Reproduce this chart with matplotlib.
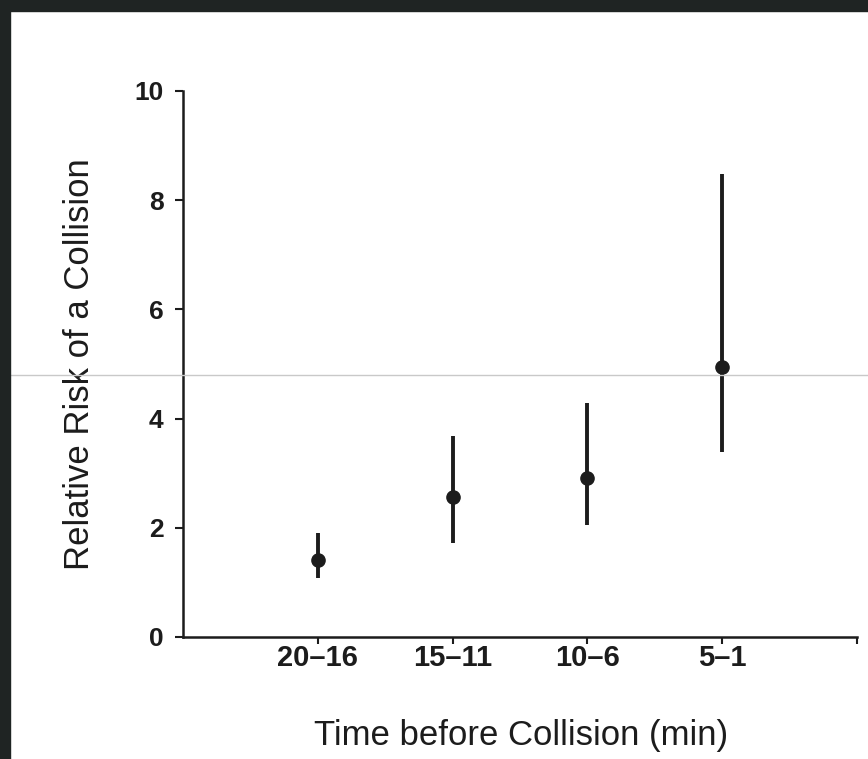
import matplotlib
matplotlib.use('Agg')
import matplotlib.pyplot as plt
from matplotlib.lines import Line2D
from matplotlib.patches import Rectangle

plt.rcParams['font.family'] = ['Liberation Sans', 'DejaVu Sans']

# data
periods = ['20\u201316', '15\u201311', '10\u20136', '5\u20131']
risk = [1.41, 2.56, 2.91, 4.95]
ci_low = [1.08, 1.72, 2.05, 3.39]
ci_high = [1.90, 3.68, 4.29, 8.48]

ink = '#1c1c1c'

fig = plt.figure(figsize=(8.68, 7.59), dpi=100)
fig.patch.set_facecolor('white')

# dark scan border on top and left
fig.add_artist(Rectangle((0, 1 - 11 / 759), 1, 11 / 759, transform=fig.transFigure,
                         color='#1f2423', zorder=10))
fig.add_artist(Rectangle((0, 0), 10 / 868, 1, transform=fig.transFigure,
                         color='#1f2423', zorder=10))
# faint scanner line across the page
fig.add_artist(Line2D([10 / 868, 1], [0.506, 0.506], transform=fig.transFigure,
                      color='#c9c9c9', lw=1.0, zorder=5))

ax = fig.add_axes([183 / 868, (759 - 637) / 759, (857 - 183) / 868, (637 - 91) / 759])

x = list(range(len(periods)))
yerr = [[r - lo for r, lo in zip(risk, ci_low)],
        [hi - r for r, hi in zip(risk, ci_high)]]
ax.errorbar(x, risk, yerr=yerr, fmt='o', color=ink, ms=9.5, elinewidth=2.8,
            capsize=0, zorder=3)

ax.set_xlim(-1, 4)
ax.set_ylim(0, 10)
ax.set_yticks([0, 2, 4, 6, 8, 10])
ax.set_xticks(x + [4])
ax.set_xticklabels(periods + [''])

for side in ['top', 'right']:
    ax.spines[side].set_visible(False)
for side in ['left', 'bottom']:
    ax.spines[side].set_linewidth(1.8)
    ax.spines[side].set_color(ink)

ax.tick_params(axis='y', direction='out', length=6, width=1.5, colors=ink,
               labelsize=19, pad=8)
ax.tick_params(axis='x', direction='out', length=5, width=1.5, colors=ink,
               labelsize=21, pad=0)
for lab in ax.get_xticklabels() + ax.get_yticklabels():
    lab.set_fontweight('bold')

ax.set_xlabel('Time before Collision (min)', fontsize=25, color=ink, va='center')
ax.set_ylabel('Relative Risk of a Collision', fontsize=25, color=ink, va='center')
ax.xaxis.set_label_coords(0.5015, -0.1795)
ax.yaxis.set_label_coords(-0.153, 0.5)

fig.savefig('out.png', dpi=100)
